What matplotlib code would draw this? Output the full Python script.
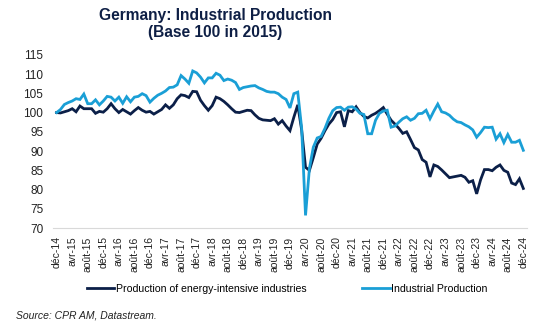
import matplotlib.pyplot as plt

# monthly series, dec-14 .. dec-24 (base 100 in 2015)
energie = [100, 99.9, 100.2, 100.5, 101, 100.2, 101.7, 101, 101, 101,
           99.8, 100.3, 100.1, 101, 102.3, 101, 100, 100.8, 100.2, 99.6,
           100.5, 101.3, 100.6, 100.1, 100.3, 99.6, 100.2, 100.8, 102, 101.1,
           102, 103.6, 104.6, 104.4, 103.9, 105.5, 105.4, 103.2, 101.8, 100.6,
           101.8, 104, 103.6, 102.9, 102, 101, 100.1, 100, 100.3, 100.6,
           100.5, 99.4, 98.5, 98.1, 98, 97.9, 98.4, 97, 97.9, 96.5,
           95.3, 98.8, 102, 95.5, 85.8, 85, 88.3, 91.8, 93.3, 95.3,
           97, 98.2, 100, 100.2, 96.3, 100.5, 100.2, 101.5, 100, 99,
           98.6, 99.3, 99.8, 100.5, 101.3, 99.6, 98, 97, 95.9, 94.6,
           95, 93, 90.9, 90.3, 87.8, 87.1, 83.3, 86.4, 86, 85.1,
           84.1, 83.1, 83.3, 83.5, 83.7, 83.2, 81.9, 82.3, 78.9, 82.5,
           85.2, 85.2, 84.9, 85.8, 86.4, 85, 84.5, 81.7, 81.3, 82.8,
           80.3]

indus = [100, 100.8, 102.1, 102.6, 103, 103.6, 103.4, 104.8, 102.3, 102.3,
         103.3, 102, 103, 104.2, 104, 103, 104, 102.4, 104.1, 102.8,
         104, 104.2, 104.9, 104.4, 102.7, 103.7, 104.5, 105, 105.6, 106.5,
         106.6, 107.2, 109.6, 108.7, 107.6, 110.8, 110.3, 109.2, 107.7, 109,
         109, 110.2, 109.7, 108.3, 108.7, 108.4, 107.8, 106, 106.5, 106.7,
         106.9, 107, 106.4, 106, 105.5, 105.3, 105.3, 104.9, 104, 103.4,
         101.2, 104.9, 105.3, 96, 73.3, 85.5, 91, 93.4, 93.8, 95.9,
         98.5, 100.5, 101.3, 101.4, 100.6, 101.4, 101.5, 100.9, 99.8, 99.5,
         94.5, 94.5, 98, 99.8, 100.4, 100.6, 96.2, 96.5, 97.5, 98.4,
         98.9, 98, 98.5, 99.7, 99.8, 100.6, 98.4, 100.4, 102.2, 100.2,
         99.9, 99.3, 98.3, 97.6, 97.4, 96.8, 96.3, 95.5, 93.6, 94.8,
         96.2, 96.1, 96.2, 93.1, 94.5, 92.2, 94.3, 92.3, 92.3, 92.8,
         90.2]

mois = ['déc', 'avr', 'août']
etiquettes = []
for i in range(0, 121, 4):
    an = 14 + (i + 11) // 12
    etiquettes.append(mois[(i // 4) % 3] + '-' + str(an))

plt.rcParams['font.family'] = ['Liberation Sans', 'DejaVu Sans']

fig = plt.figure(figsize=(5.42, 3.34), dpi=100)
ax = fig.add_axes([0.098, 0.317, 0.874, 0.519])

x = list(range(len(indus)))
l1, = ax.plot(x, energie, color='#0b1f48', lw=2.0, solid_joinstyle='miter')
l2, = ax.plot(x, indus, color='#1a9fd6', lw=2.0, solid_joinstyle='miter')

ax.set_xlim(-0.9, 120.9)
ax.set_ylim(70, 115)
ax.set_yticks(range(70, 116, 5))
ax.set_xticks(range(0, 121, 4))
ax.set_xticklabels(etiquettes, rotation=90, fontsize=7.5, color='#222222')
ax.tick_params(axis='y', labelsize=8.5, colors='#222222', length=0, pad=7)
ax.tick_params(axis='x', length=0, pad=6)
for s in ['top', 'right', 'left']:
    ax.spines[s].set_visible(False)
ax.spines['bottom'].set_color('#d9d9d9')

fig.text(0.397, 0.927, 'Germany: Industrial Production\n(Base 100 in 2015)',
         ha='center', va='center', fontsize=11.2, fontweight='bold',
         color='#0e1f45', linespacing=1.15)

fig.legend([l1, l2], ['Production of energy-intensive industries', 'Industrial Production'],
           loc='center', bbox_to_anchor=(0.53, 0.135), ncol=2, frameon=False,
           fontsize=7.6, handlelength=2.6, handletextpad=0.15, columnspacing=5.3)

fig.text(0.03, 0.045, 'Source: CPR AM, Datastream.', fontsize=7.5,
         style='italic', color='#222222')

plt.savefig('out.png', dpi=100)
